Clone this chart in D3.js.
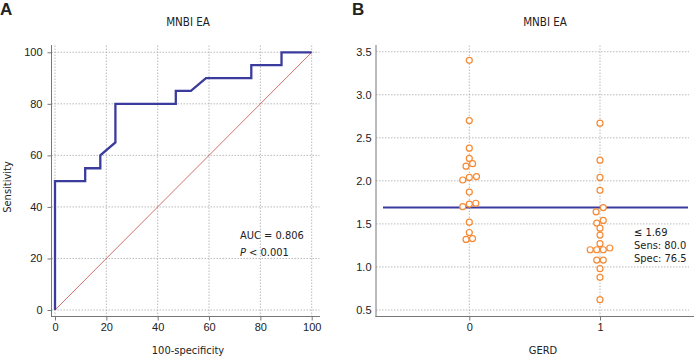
<!DOCTYPE html>
<html><head><meta charset="utf-8">
<script src="https://cdn.jsdelivr.net/npm/d3@7"></script>
<style>body{margin:0;background:#fff}svg{display:block;font-family:"DejaVu Sans Condensed","DejaVu Sans",Verdana,sans-serif;font-stretch:condensed}</style>
</head><body><svg id="c" width="698" height="362"></svg>
<script>
// ROC curve (100-specificity, sensitivity)
const rocFpr  = [0, 0, 11.76, 11.76, 17.65, 17.65, 23.53, 23.53, 47.06, 47.06, 52.94, 58.82, 76.47, 76.47, 88.24, 88.24, 100];
const rocSens = [0, 50, 50, 55, 55, 60, 65, 80, 80, 85, 85, 90, 90, 95, 95, 100, 100];
const rocTicks = [0, 20, 40, 60, 80, 100];
const aucText = "AUC = 0.806";
// Dot plot
const gerd0 = [3.40, 2.70, 2.38, 2.26, 2.17, 2.20, 2.01, 2.04, 2.05, 1.87, 1.70, 1.73, 1.74, 1.52, 1.40, 1.32, 1.33];
const gerd0Jit = [0, 0, 0, 0, -0.025, 0.025, -0.05, 0, 0.055, 0, -0.05, 0, 0.05, 0, 0, -0.025, 0.025];
const gerd1 = [2.67, 2.24, 2.04, 1.89, 1.69, 1.64, 1.54, 1.51, 1.45, 1.37, 1.27, 1.20, 1.20, 1.20, 1.22, 1.08, 1.08, 0.98, 0.88, 0.62];
const gerd1Jit = [0, 0, 0, 0, 0.025, -0.03, 0.025, -0.025, 0, 0, 0, -0.075, -0.025, 0.025, 0.075, -0.025, 0.025, 0, 0, 0];
const cutoff = 1.69;
const dotTicks = [0.5, 1.0, 1.5, 2.0, 2.5, 3.0, 3.5];
const groups = [0, 1];

const svg = d3.select("#c");
const txt = "#222", axc = "#777", gridc = "#aaa";
const blue = "#3b3b9e", orange = "#f58a35", red = "#c94a4a";
const FS = 11;

// ---------- Panel A ----------
const xA = d3.scaleLinear().domain([0, 100]).range([55, 311.7]);
const yA = d3.scaleLinear().domain([0, 100]).range([310, 52.3]);
const gA = svg.append("g");
svg.append("text").attr("x", 0).attr("y", 15).attr("font-family", "Liberation Sans, Arial").attr("font-stretch", "normal").attr("font-weight", "bold").attr("font-size", 17).attr("fill", txt).text("A");
gA.append("text").attr("x", 188).attr("y", 26).attr("text-anchor", "middle").attr("font-size", 11.5).attr("fill", txt).text("MNBI EA");
// grid
gA.selectAll(".gx").data(rocTicks).join("line").attr("x1", d => xA(d)).attr("x2", d => xA(d)).attr("y1", 45.5).attr("y2", 316.5)
  .attr("stroke", gridc).attr("stroke-dasharray", "1.5,1.5").attr("stroke-width", 0.8);
gA.selectAll(".gy").data(rocTicks).join("line").attr("y1", d => yA(d)).attr("y2", d => yA(d)).attr("x1", 51.5).attr("x2", 319.5)
  .attr("stroke", gridc).attr("stroke-dasharray", "1.5,1.5").attr("stroke-width", 0.8);
// axes
const axA = d3.axisBottom(xA).tickValues(rocTicks).tickSize(4).tickPadding(3);
const gax = gA.append("g").attr("transform", "translate(0,316.5)").call(axA);
const ayA = d3.axisLeft(yA).tickValues(rocTicks).tickSize(4).tickPadding(5);
const gay = gA.append("g").attr("transform", "translate(51.5,0)").call(ayA);
[gax, gay].forEach(g => {
  g.select(".domain").remove();
  g.selectAll("line").attr("stroke", axc);
  g.selectAll("text").attr("font-size", FS).attr("fill", txt).attr("font-family", null);
});
gA.append("line").attr("x1", 51.5).attr("x2", 51.5).attr("y1", 45).attr("y2", 317).attr("stroke", axc);
gA.append("line").attr("x1", 51).attr("x2", 320).attr("y1", 316.5).attr("y2", 316.5).attr("stroke", axc);
// diagonal
gA.append("line").attr("x1", xA(0)).attr("y1", yA(0)).attr("x2", xA(100)).attr("y2", yA(100)).attr("stroke", red).attr("stroke-width", 0.8);
// ROC
const rocPts = rocFpr.map((f, i) => [f, rocSens[i]]);
gA.append("path").attr("d", d3.line().x(d => xA(d[0])).y(d => yA(d[1]))(rocPts))
  .attr("fill", "none").attr("stroke", blue).attr("stroke-width", 2.3);
// annotation
gA.append("text").attr("x", 240).attr("y", 239).attr("font-size", FS).attr("fill", txt).text(aucText);
const pt = gA.append("text").attr("x", 240).attr("y", 256).attr("font-size", FS).attr("fill", txt);
pt.append("tspan").attr("font-style", "italic").text("P");
pt.append("tspan").text(" < 0.001");
// titles
gA.append("text").attr("x", 188).attr("y", 354).attr("text-anchor", "middle").attr("font-size", FS).attr("fill", txt).text("100-specificity");
gA.append("text").attr("transform", "translate(11,187) rotate(-90)").attr("text-anchor", "middle").attr("font-size", FS).attr("fill", txt).text("Sensitivity");

// ---------- Panel B ----------
const xB = d3.scaleLinear().domain([0, 1]).range([469.3, 600]);
const yB = d3.scaleLinear().domain([0.5, 3.5]).range([310, 51.7]);
const gB = svg.append("g");
svg.append("text").attr("x", 352).attr("y", 15).attr("font-family", "Liberation Sans, Arial").attr("font-stretch", "normal").attr("font-weight", "bold").attr("font-size", 17).attr("fill", txt).text("B");
gB.append("text").attr("x", 545).attr("y", 26).attr("text-anchor", "middle").attr("font-size", 11.5).attr("fill", txt).text("MNBI EA");
gB.selectAll(".gx").data(groups).join("line").attr("x1", d => xB(d)).attr("x2", d => xB(d)).attr("y1", 45.5).attr("y2", 316.5)
  .attr("stroke", gridc).attr("stroke-dasharray", "1.5,1.5").attr("stroke-width", 0.8);
gB.selectAll(".gy").data(dotTicks).join("line").attr("y1", d => yB(d)).attr("y2", d => yB(d)).attr("x1", 376).attr("x2", 689)
  .attr("stroke", gridc).attr("stroke-dasharray", "1.5,1.5").attr("stroke-width", 0.8);
const axB = d3.axisBottom(xB).tickValues(groups).tickFormat(d3.format("d")).tickSize(4).tickPadding(3);
const gbx = gB.append("g").attr("transform", "translate(0,316.5)").call(axB);
const ayB = d3.axisLeft(yB).tickValues(dotTicks).tickFormat(d3.format(".1f")).tickSize(0).tickPadding(4.5);
const gby = gB.append("g").attr("transform", "translate(376,0)").call(ayB);
[gbx, gby].forEach(g => {
  g.select(".domain").remove();
  g.selectAll("line").attr("stroke", axc);
  g.selectAll("text").attr("font-size", FS).attr("fill", txt).attr("font-family", null);
});
gB.append("line").attr("x1", 376).attr("x2", 376).attr("y1", 45).attr("y2", 317).attr("stroke", axc);
gB.append("line").attr("x1", 375.5).attr("x2", 694).attr("y1", 316.5).attr("y2", 316.5).attr("stroke", axc);
// cutoff line
gB.append("line").attr("x1", 383).attr("x2", 688).attr("y1", yB(cutoff)).attr("y2", yB(cutoff)).attr("stroke", blue).attr("stroke-width", 2);
// points
const pts = gerd0.map((v, i) => ({g: 0 + gerd0Jit[i], v})).concat(gerd1.map((v, i) => ({g: 1 + gerd1Jit[i], v})));
gB.selectAll("circle").data(pts).join("circle").attr("cx", d => xB(d.g)).attr("cy", d => yB(d.v)).attr("r", 3)
  .attr("fill", "#fff").attr("stroke", orange).attr("stroke-width", 1.2);
// annotation
const ann = ["\u2264 1.69", "Sens: 80.0", "Spec: 76.5"];
gB.selectAll(".ann").data(ann).join("text").attr("x", 634).attr("y", (d, i) => 236 + i * 13).attr("font-size", FS).attr("fill", txt).text(d => d);
gB.append("text").attr("x", 543).attr("y", 354).attr("text-anchor", "middle").attr("font-size", FS).attr("fill", txt).text("GERD");
</script></body></html>
